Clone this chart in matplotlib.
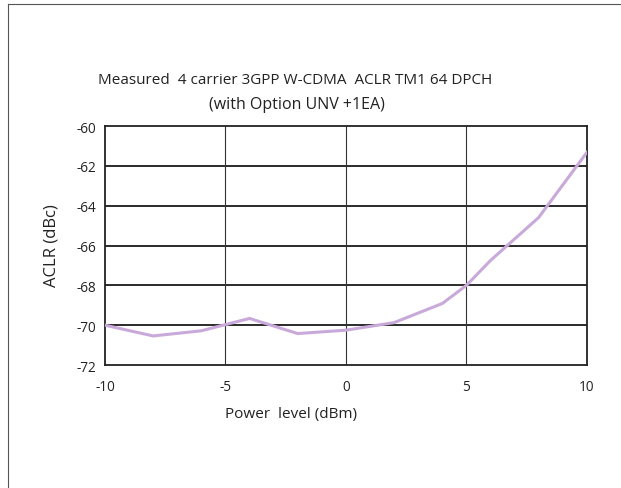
import matplotlib
matplotlib.use("Agg")
from matplotlib import pyplot as plt
from matplotlib.lines import Line2D

# power level (dBm) and measured ACLR (dBc)
power = [-10, -8, -6, -4, -2, 0, 2, 4, 5, 6, 8, 10]
aclr = [-70.0, -70.54, -70.28, -69.66, -70.42, -70.25, -69.87, -68.91, -68.0, -66.75, -64.59, -61.32]

xticks = [-10, -5, 0, 5, 10]
yticks = [-72, -70, -68, -66, -64, -62, -60]

plt.rcParams['font.family'] = ['Open Sans', 'DejaVu Sans']

fig = plt.figure(figsize=(6.21, 4.89), dpi=100)
ax = fig.add_axes([0.169, 0.2515, 0.776, 0.4885])

ax.plot(power, aclr, color='#c9a9d9', linewidth=2.2, solid_joinstyle='miter', zorder=3)

ax.set_xlim(-10, 10)
ax.set_ylim(-72, -60)
ax.set_xticks(xticks)
ax.set_yticks(yticks)
ax.set_xticklabels([str(t) for t in xticks])
ax.set_yticklabels([str(t) for t in yticks])
ax.tick_params(length=0, labelsize=9.8, colors='#222222')
ax.tick_params(axis='y', pad=6)
ax.tick_params(axis='x', pad=10)

for y in yticks[1:-1]:
    ax.axhline(y, color='#1a1a1a', linewidth=1.3, zorder=1)
for x in xticks[1:-1]:
    ax.axvline(x, color='#333333', linewidth=0.8, zorder=1)
for s in ax.spines.values():
    s.set_color('#222222')
    s.set_linewidth(1.3)

fig.text(0.475, 0.835, 'Measured  4 carrier 3GPP W-CDMA  ACLR TM1 64 DPCH',
         ha='center', va='center', fontsize=11, color='#222222')
fig.text(0.478, 0.785, '(with Option UNV +1EA)',
         ha='center', va='center', fontsize=11.5, color='#222222')
fig.text(0.468, 0.152, 'Power  level (dBm)', ha='center', va='center',
         fontsize=11, color='#222222')
fig.text(0.083, 0.497, 'ACLR (dBc)', ha='center', va='center', rotation=90,
         fontsize=12, color='#222222')

# outer frame (left and top edges)
fig.add_artist(Line2D([8 / 621, 8 / 621], [0, 1 - 5 / 489], color='#555555', linewidth=0.8))
fig.add_artist(Line2D([8 / 621, 1], [1 - 5 / 489, 1 - 5 / 489], color='#555555', linewidth=0.8))

plt.savefig('out.png', dpi=100)
